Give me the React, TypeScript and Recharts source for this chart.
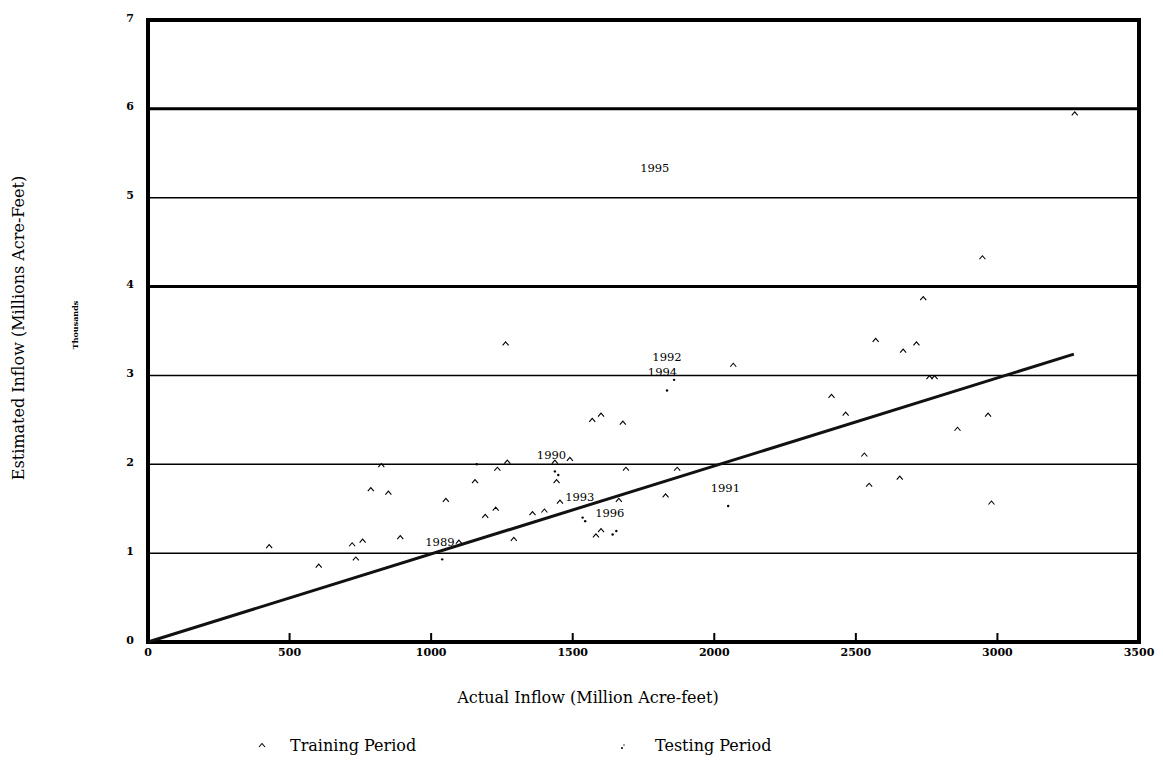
import React from "react";
import {
  ScatterChart,
  Scatter,
  XAxis,
  YAxis,
  CartesianGrid,
  ReferenceArea,
  ReferenceLine,
} from "recharts";

const xTicks = [0, 500, 1000, 1500, 2000, 2500, 3000, 3500];
const yTicks = [0, 1, 2, 3, 4, 5, 6, 7];
const thickGridLines = [4, 6];

const trainingPoints = [
  { x: 428, y: 1.08 }, { x: 603, y: 0.86 }, { x: 721, y: 1.1 }, { x: 734, y: 0.94 },
  { x: 758, y: 1.14 }, { x: 787, y: 1.72 }, { x: 849, y: 1.68 }, { x: 824, y: 1.99 },
  { x: 891, y: 1.18 }, { x: 1052, y: 1.6 }, { x: 1098, y: 1.13 }, { x: 1155, y: 1.81 },
  { x: 1191, y: 1.42 }, { x: 1228, y: 1.5 }, { x: 1234, y: 1.95 }, { x: 1263, y: 3.36 },
  { x: 1269, y: 2.03 }, { x: 1292, y: 1.16 }, { x: 1358, y: 1.45 }, { x: 1400, y: 1.48 },
  { x: 1437, y: 2.03 }, { x: 1443, y: 1.81 }, { x: 1455, y: 1.58 }, { x: 1490, y: 2.06 },
  { x: 1569, y: 2.5 }, { x: 1582, y: 1.2 }, { x: 1600, y: 1.26 }, { x: 1600, y: 2.56 },
  { x: 1663, y: 1.6 }, { x: 1677, y: 2.47 }, { x: 1688, y: 1.95 }, { x: 1828, y: 1.65 },
  { x: 1869, y: 1.95 }, { x: 2067, y: 3.12 }, { x: 2414, y: 2.77 }, { x: 2464, y: 2.57 },
  { x: 2530, y: 2.11 }, { x: 2547, y: 1.77 }, { x: 2570, y: 3.4 }, { x: 2655, y: 1.85 },
  { x: 2667, y: 3.28 }, { x: 2714, y: 3.36 }, { x: 2738, y: 3.87 }, { x: 2760, y: 2.98 },
  { x: 2778, y: 2.98 }, { x: 2859, y: 2.4 }, { x: 2947, y: 4.33 }, { x: 2967, y: 2.56 },
  { x: 2979, y: 1.57 }, { x: 3273, y: 5.95 },
];

const testingPoints = [
  { x: 1039, y: 0.93 }, { x: 1161, y: 2.0 }, { x: 1437, y: 1.92 }, { x: 1449, y: 1.88 },
  { x: 1535, y: 1.4 }, { x: 1544, y: 1.36 }, { x: 1641, y: 1.21 }, { x: 1654, y: 1.25 },
  { x: 1833, y: 2.83 }, { x: 1858, y: 2.95 }, { x: 2049, y: 1.53 },
];

const fitLine = [
  { x: 0, y: 0 },
  { x: 3270, y: 3.24 },
];

const yearLabels = [
  { x: 1031, y: 1.12, year: "1989" },
  { x: 1425, y: 2.1, year: "1990" },
  { x: 2039, y: 1.73, year: "1991" },
  { x: 1833, y: 3.21, year: "1992" },
  { x: 1525, y: 1.63, year: "1993" },
  { x: 1817, y: 3.04, year: "1994" },
  { x: 1790, y: 5.33, year: "1995" },
  { x: 1631, y: 1.45, year: "1996" },
];

const FONT = "'DejaVu Serif', 'Liberation Serif', serif";

const Caret = (props: any) => {
  const { cx, cy } = props;
  if (cx == null || cy == null) return <g />;
  return (
    <path
      d={`M${cx - 3},${cy + 2} L${cx},${cy - 1.5} L${cx + 3},${cy + 2}`}
      stroke="#000"
      strokeWidth={1.1}
      fill="none"
    />
  );
};

const Dot = (props: any) => {
  const { cx, cy } = props;
  if (cx == null || cy == null) return <g />;
  return <circle cx={cx} cy={cy} r={1.2} fill="#000" />;
};

const YearText = (props: any) => {
  const { cx, cy, payload } = props;
  if (cx == null || cy == null) return <g />;
  return (
    <text
      x={cx}
      y={cy}
      textAnchor="middle"
      dominantBaseline="central"
      fontSize={11.5}
      fontFamily={FONT}
      fill="#000"
    >
      {payload.year}
    </text>
  );
};

const NoShape = () => <g />;

const XTick = (props: any) => {
  const { x, y, payload } = props;
  return (
    <g>
      <line x1={x} x2={x} y1={y} y2={y - 9} stroke="#000" strokeWidth={2} />
      <text
        x={x}
        y={y + 14}
        textAnchor="middle"
        fontSize={11}
        fontFamily={FONT}
        fontWeight="bold"
        fill="#000"
      >
        {payload.value}
      </text>
    </g>
  );
};

const YTick = (props: any) => {
  const { x, y, payload } = props;
  return (
    <text
      x={x}
      y={y - 2}
      textAnchor="end"
      dominantBaseline="central"
      fontSize={11}
      fontFamily={FONT}
      fontWeight="bold"
      fill="#000"
    >
      {payload.value}
    </text>
  );
};

export default function App() {
  return (
    <div
      style={{
        position: "absolute",
        left: 0,
        top: 0,
        width: 1163,
        height: 766,
        background: "#fff",
        fontFamily: FONT,
        color: "#000",
      }}
    >
      <ScatterChart
        width={1163}
        height={766}
        margin={{ top: 20, right: 24, bottom: 94, left: 118 }}
      >
        <CartesianGrid vertical={false} stroke="#000" strokeWidth={1.5} />
        {thickGridLines.map((v) => (
          <ReferenceLine key={v} y={v} stroke="#000" strokeWidth={3} />
        ))}
        <XAxis
          type="number"
          dataKey="x"
          domain={[0, 3500]}
          ticks={xTicks}
          height={30}
          axisLine={false}
          tickLine={false}
          tickSize={0}
          tickMargin={0}
          tick={<XTick />}
          interval={0}
        />
        <YAxis
          type="number"
          dataKey="y"
          domain={[0, 7]}
          ticks={yTicks}
          width={30}
          axisLine={false}
          tickLine={false}
          tickSize={0}
          tickMargin={14}
          interval={0}
          tick={<YTick />}
        />
        <ReferenceArea
          x1={0}
          x2={3500}
          y1={0}
          y2={7}
          fill="none"
          fillOpacity={0}
          stroke="#000"
          strokeWidth={4}
        />
        <Scatter
          name="Fit"
          data={fitLine}
          line={{ stroke: "#111", strokeWidth: 3 }}
          shape={NoShape}
          isAnimationActive={false}
        />
        <Scatter
          name="Training Period"
          data={trainingPoints}
          shape={Caret}
          isAnimationActive={false}
        />
        <Scatter
          name="Testing Period"
          data={testingPoints}
          shape={Dot}
          isAnimationActive={false}
        />
        <Scatter
          name="Years"
          data={yearLabels}
          shape={YearText}
          isAnimationActive={false}
        />
      </ScatterChart>

      <div
        style={{
          position: "absolute",
          left: 18,
          top: 328,
          transform: "translate(-50%, -50%) rotate(-90deg)",
          whiteSpace: "nowrap",
          fontSize: 16,
        }}
      >
        Estimated Inflow (Millions Acre-Feet)
      </div>
      <div
        style={{
          position: "absolute",
          left: 75,
          top: 325,
          transform: "translate(-50%, -50%) rotate(-90deg)",
          whiteSpace: "nowrap",
          fontSize: 8,
          fontWeight: "bold",
        }}
      >
        Thousands
      </div>
      <div
        style={{
          position: "absolute",
          left: 588,
          top: 697,
          transform: "translate(-50%, -50%)",
          whiteSpace: "nowrap",
          fontSize: 16,
        }}
      >
        Actual Inflow (Million Acre-feet)
      </div>

      <svg
        width={1163}
        height={40}
        style={{ position: "absolute", left: 0, top: 728 }}
      >
        <Caret cx={262} cy={17} />
        <circle cx={622} cy={20} r={1} fill="#000" />
        <circle cx={624} cy={17} r={0.7} fill="#000" />
      </svg>
      <div
        style={{
          position: "absolute",
          left: 290,
          top: 736,
          whiteSpace: "nowrap",
          fontSize: 16,
        }}
      >
        Training Period
      </div>
      <div
        style={{
          position: "absolute",
          left: 655,
          top: 736,
          whiteSpace: "nowrap",
          fontSize: 16,
        }}
      >
        Testing Period
      </div>
    </div>
  );
}
